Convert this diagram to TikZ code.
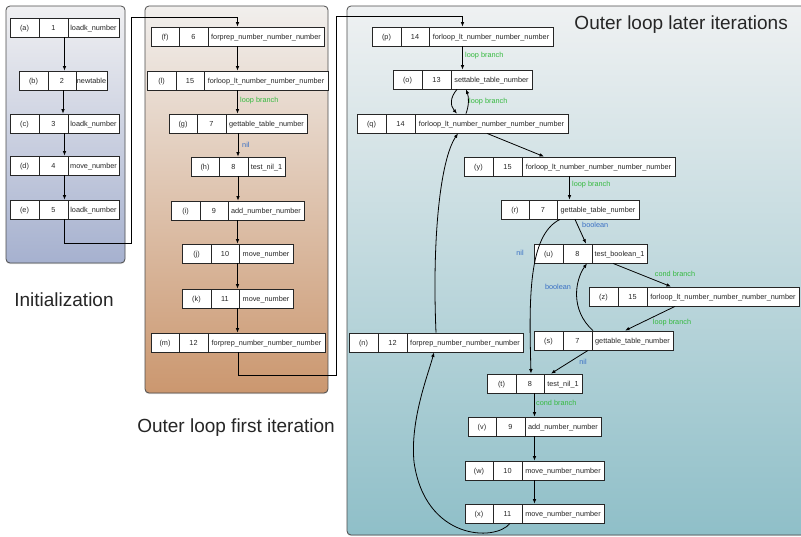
\documentclass[tikz,border=0pt]{standalone}
\usepackage{fontspec}
\setmainfont{Liberation Sans}
\usetikzlibrary{arrows.meta,shadows}
\definecolor{lgreen}{RGB}{52,185,62}
\definecolor{lblue}{RGB}{58,112,196}
\definecolor{pAtop}{RGB}{240,240,242}
\definecolor{pAbot}{RGB}{166,177,207}
\definecolor{pBtop}{RGB}{241,239,237}
\definecolor{pBbot}{RGB}{203,151,111}
\definecolor{pCtop}{RGB}{239,241,242}
\definecolor{pCbot}{RGB}{143,191,200}
\tikzset{
  ibox/.style={draw=black!85, line width=0.8pt, fill=white, minimum height=19pt, inner sep=0pt},
  itext/.style={inner sep=0pt, font=\fontsize{7.3}{8}\selectfont, text=black!85, text height=5.2pt, text depth=0pt},
  cellline/.style={draw=black!85, line width=0.8pt},
  conn/.style={draw=black, line width=0.8pt, -{Latex[length=4.5pt,width=3.6pt]}},
  glab/.style={font=\fontsize{7.3}{8}\selectfont, text=lgreen, inner sep=0pt, text height=5.2pt, text depth=0pt},
  blab/.style={font=\fontsize{7.3}{8}\selectfont, text=lblue, inner sep=0pt, text height=5.2pt, text depth=0pt},
  panel/.style={draw=black!70, line width=0.8pt, rounded corners=4pt, inner sep=0pt,
    drop shadow={shadow xshift=0pt, shadow yshift=-1.2pt, opacity=0.25}},
  ptitle/.style={font=\fontsize{19}{22}\selectfont, inner sep=0pt, text=black!85},
}
% name, x1, d1, d2, x2, ytop, label, number, text
\newcommand\instr[9]{%
  \node[ibox, minimum width={(#5-#2)*1pt}] (I#1) at ({(#2+#5)/2},{#6+9.5}) {};
  \node[itext] (I#1-l) at ({(#2+#3)/2},{#6+9.5}) {#7};
  \node[itext] (I#1-n) at ({(#3+#4)/2},{#6+9.5}) {#8};
  \node[itext] (I#1-t) at ({(#4+#5)/2},{#6+9.5}) {#9};
  \draw[cellline] ({#3},{#6}) -- ({#3},{#6+19});
  \draw[cellline] ({#4},{#6}) -- ({#4},{#6+19});
}
\begin{document}
\begin{tikzpicture}[x=1pt,y=-1pt]
\useasboundingbox (0,0) rectangle (801,536);
\fill[white] (0,0) rectangle (801,536);

% panels
\node[panel, top color=pAtop, bottom color=pAbot, minimum width=119pt, minimum height=257pt] (PA) at (65.5,134.5) {};
\node[panel, top color=pBtop, bottom color=pBbot, minimum width=183pt, minimum height=387pt] (PB) at (236.5,199.5) {};
\node[panel, top color=pCtop, bottom color=pCbot, minimum width=468pt, minimum height=529pt] (PC) at (581,270.5) {};

\node[ptitle] (TA) at (64,300) {Initialization};
\node[ptitle] (TB) at (236,428) {Outer loop first iteration};
\node[ptitle, anchor=east] (TC) at (788,25) {Outer loop later iterations};

% panel 1
\instr{a}{10}{39}{68}{119}{18}{(a)}{1}{loadk\_number}
\instr{b}{19}{48}{76}{107}{71}{(b)}{2}{newtable}
\instr{c}{10}{39}{68}{119}{114}{(c)}{3}{loadk\_number}
\instr{d}{10}{39}{68}{119}{156}{(d)}{4}{move\_number}
\instr{e}{10}{39}{68}{119}{200}{(e)}{5}{loadk\_number}

% panel 2
\instr{f}{151}{179}{208}{324}{27}{(f)}{6}{forprep\_number\_number\_number}
\instr{l}{147}{176}{204}{328}{71}{(l)}{15}{forloop\_lt\_number\_number\_number}
\instr{g}{169}{197}{226}{307}{114}{(g)}{7}{gettable\_table\_number}
\instr{h}{191}{219}{248}{285}{157}{(h)}{8}{test\_nil\_1}
\instr{i}{171}{200}{228}{304}{201}{(i)}{9}{add\_number\_number}
\instr{j}{182}{211}{239}{293}{244}{(j)}{10}{move\_number}
\instr{k}{182}{211}{239}{293}{289}{(k)}{11}{move\_number}
\instr{m}{151}{179}{208}{325}{333}{(m)}{12}{forprep\_number\_number\_number}

% panel 3
\instr{p}{372}{401}{429}{553}{27}{(p)}{14}{forloop\_lt\_number\_number\_number}
\instr{o}{393}{422}{451}{532}{70}{(o)}{13}{settable\_table\_number}
\instr{q}{357}{386}{415}{568}{114}{(q)}{14}{forloop\_lt\_number\_number\_number\_number}
\instr{y}{464}{493}{522}{675}{157}{(y)}{15}{forloop\_lt\_number\_number\_number\_number}
\instr{r}{501}{529}{557}{639}{200}{(r)}{7}{gettable\_table\_number}
\instr{u}{534}{563}{592}{647}{244}{(u)}{8}{test\_boolean\_1}
\instr{z}{589}{618}{647}{799}{287}{(z)}{15}{forloop\_lt\_number\_number\_number\_number}
\instr{s}{534}{563}{592}{673}{331}{(s)}{7}{gettable\_table\_number}
\instr{n}{349}{378}{407}{523}{333}{(n)}{12}{forprep\_number\_number\_number}
\instr{t}{487}{516}{544}{582}{374}{(t)}{8}{test\_nil\_1}
\instr{v}{468}{496}{525}{601}{417}{(v)}{9}{add\_number\_number}
\instr{w}{465}{493}{522}{604}{461}{(w)}{10}{move\_number\_number}
\instr{x}{465}{493}{522}{604}{504}{(x)}{11}{move\_number\_number}

% connectors panel 1
\draw[conn] (Ia.south) -- (Ia.south |- Ib.north);
\draw[conn] (Ib.south) -- (Ib.south |- Ic.north);
\draw[conn] (Ic.south) -- (Ic.south |- Id.north);
\draw[conn] (Id.south) -- (Id.south |- Ie.north);
\coordinate (ef1) at (131,243);
\coordinate (ef2) at (131,17);
\draw[conn] (Ie.south) |- (ef1) -- (ef2) -| (If.north);

% connectors panel 2
\draw[conn] (If.south) -- (If.south |- Il.north);
\draw[conn] (Il.south) -- (Il.south |- Ig.north);
\draw[conn] (Ig.south) -- (Ig.south |- Ih.north);
\draw[conn] (Ih.south) -- (Ih.south |- Ii.north);
\draw[conn] (Ii.south) -- (Ii.south |- Ij.north);
\draw[conn] (Ij.south) -- (Ij.south |- Ik.north);
\draw[conn] (Ik.south) -- (Ik.south |- Im.north);
\node[glab, anchor=west] (L1) at (240,100) {loop branch};
\node[blab, anchor=west] (L2) at (242,145) {nil};
\coordinate (mp1) at (336,375);
\coordinate (mp2) at (336,16);
\draw[conn] (Im.south) |- (mp1) -- (mp2) -| (Ip.north);

% connectors panel 3
\draw[conn] (Ip.south) -- (Ip.south |- Io.north);
\node[glab, anchor=west] (L3) at (465,55) {loop branch};
\draw[conn] ([xshift=-5.5pt]Io.south) .. controls +(-7,8) and +(-7,-8) .. ([xshift=-5.5pt]Iq.north);
\draw[conn] ([xshift=3.5pt]Iq.north) .. controls +(3,-8) and +(3,8) .. ([xshift=3.5pt]Io.south);
\node[glab, anchor=west] (L4) at (469,101) {loop branch};
\draw[conn] ([xshift=24.5pt]Iq.south) -- ([xshift=-25.5pt]Iy.north);
\draw[conn] (Iy.south) -- (Iy.south |- Ir.north);
\node[glab, anchor=west] (L5) at (572,184) {loop branch};
\draw[conn] ([xshift=5pt]Ir.south) -- ([xshift=-4.5pt]Iu.north);
\node[blab, anchor=west] (L6) at (582,225) {boolean};
\draw[conn] ([xshift=-10pt]Ir.south) .. controls (528,235) and (529,300) .. ([xshift=-3.5pt]It.north);
\node[blab] (L7) at (520,253) {nil};
\draw[conn] ([xshift=22.5pt]Iu.south) -- ([xshift=-23pt]Iz.north);
\node[glab] (L8) at (675,274) {cond branch};
\draw[conn] ([xshift=-19pt]Iz.south) -- ([xshift=21.5pt]Is.north);
\node[glab] (L9) at (672,322) {loop branch};
\draw[conn] ([xshift=-10.5pt]Is.north) .. controls (570,310) and (575,280) .. ([xshift=-3.5pt]Iu.south);
\node[blab] (L10) at (558,287) {boolean};
\draw[conn] ([xshift=-15.5pt]Is.south) -- ([xshift=16.5pt]It.north);
\node[blab] (L11) at (583,362) {nil};
\draw[conn] (It.south) -- (It.south |- Iv.north);
\node[glab, anchor=west] (L12) at (536,403) {cond branch};
\draw[conn] (Iv.south) -- (Iv.south |- Iw.north);
\draw[conn] (Iw.south) -- (Iw.south |- Ix.north);
\coordinate (xn1) at (414,462);
\draw[conn] ([xshift=-24.5pt]Ix.south) .. controls (495,542) and (425,540) .. (xn1) .. controls (410,420) and (428,375) .. ([xshift=-2pt]In.south);
\draw[conn] (In.north) .. controls (432,240) and (440,160) .. ([xshift=-4.5pt]Iq.south);
\end{tikzpicture}
\end{document}
